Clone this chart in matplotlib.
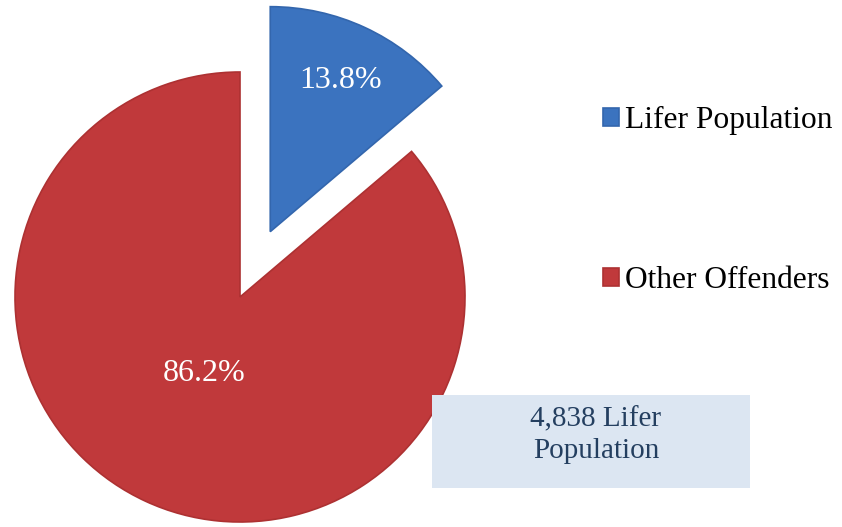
import matplotlib.pyplot as plt

labels = ['Lifer Population', 'Other Offenders']
shares = [13.8, 86.2]
colors = ['#3b73bf', '#c0393b']
edge_colors = ['#3366ad', '#ad3132']
box_text = '4,838 Lifer\nPopulation'

plt.rcParams['font.family'] = ['Liberation Serif', 'DejaVu Serif']

fig = plt.figure(figsize=(8.42, 5.27), dpi=100)
ax = fig.add_axes([0, 0, 1, 1])
ax.set_xlim(0, 842)
ax.set_ylim(0, 527)
ax.set_aspect('equal')
ax.axis('off')

cx, cy, r = 240, 230, 225
wedges, texts, autotexts = ax.pie(
    shares,
    colors=colors,
    startangle=90,
    counterclock=False,
    explode=[72, 0],  # offset in data units here
    center=(cx, cy),
    radius=r,
    autopct='%1.1f%%',
    pctdistance=0.74,
    textprops={'color': 'white', 'fontsize': 23},
    wedgeprops={'linewidth': 1.2},
    frame=True,
)
for w, ec in zip(wedges, edge_colors):
    w.set_edgecolor(ec)

# the big slice carries its label closer to the centre
x, y = autotexts[1].get_position()
autotexts[1].set_position((cx + (x - cx) * 0.375 / 0.74, cy + (y - cy) * 0.375 / 0.74))

ax.legend(
    wedges, labels,
    loc='upper left',
    bbox_to_anchor=(0.716, 0.798),
    bbox_transform=fig.transFigure,
    frameon=False,
    fontsize=22.7,
    handlelength=0.5,
    handleheight=0.5,
    handletextpad=0.2,
    labelspacing=4.15,
    borderpad=0,
    borderaxespad=0,
)

ax.add_patch(plt.Rectangle((432, 527 - 488), 318, 93, facecolor='#dce6f2',
                           edgecolor='none', zorder=3))
ax.text(596, 527 - 435, box_text, ha='center', va='center', fontsize=21,
        color='#243f60', linespacing=1.3, zorder=4)

fig.savefig('out.png', dpi=100)
